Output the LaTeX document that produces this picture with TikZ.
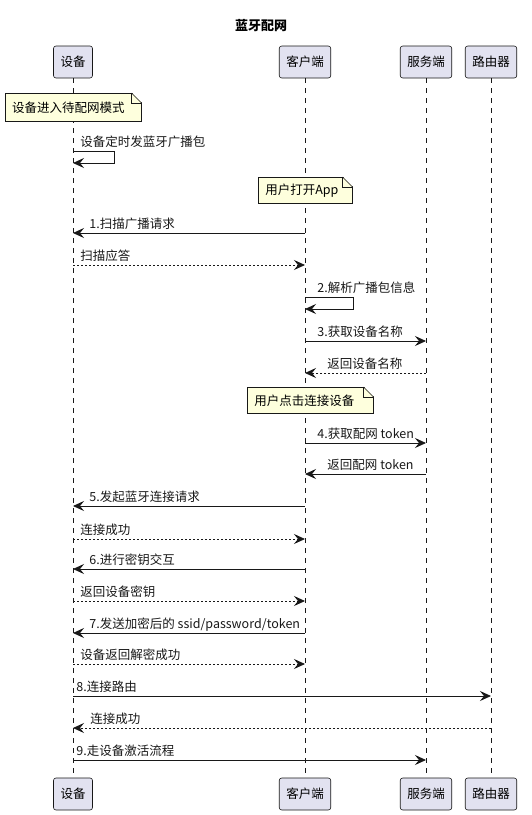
\documentclass[tikz,border=0pt]{standalone}
\usepackage{fontspec}
\setmainfont{Noto Sans CJK SC}
\usetikzlibrary{arrows.meta,positioning}
\definecolor{umlline}{HTML}{181818}
\definecolor{umlpart}{HTML}{E2E2F0}
\definecolor{umlnote}{HTML}{FEFFDD}

\begin{document}
\begin{tikzpicture}[x=1pt, y=-1pt,
      part/.style={draw=umlline, fill=umlpart, rounded corners=2.5pt,
                   line width=0.6pt, minimum height=32pt, inner xsep=7pt,
                   font=\fontsize{12.5}{14}\selectfont},
      life/.style={umlline, line width=0.5pt, dash pattern=on 5pt off 5pt},
      note/.style={draw=umlline, fill=umlnote, line width=0.5pt,
                   minimum height=26pt, inner xsep=7pt, inner ysep=0pt,
                   align=left, anchor=north west,
                   font=\fontsize{12.5}{14}\selectfont},
      msg/.style={-{Stealth[length=11pt, width=10pt, inset=4pt]},
                  umlline, line width=0.9pt},
      ret/.style={msg, dash pattern=on 2pt off 2pt},
      lbl/.style={anchor=base west, inner sep=0pt, yshift=5pt,
                  text=umlline, font=\fontsize{12.5}{14}\selectfont}
  ]
    \useasboundingbox (0,0) rectangle (532,815);
    \node[font=\bfseries\fontsize{13}{15}\selectfont] (title) at (261,26) {蓝牙配网};

    % participants, top and bottom
    \node[part] (devT) at (73,62)  {设备};
    \node[part] (cliT) at (305,62) {客户端};
    \node[part] (srvT) at (426,62) {服务端};
    \node[part] (rtrT) at (491,62) {路由器};
    \node[part] (devB) at (73,794)  {设备};
    \node[part] (cliB) at (305,794) {客户端};
    \node[part] (srvB) at (426,794) {服务端};
    \node[part] (rtrB) at (491,794) {路由器};
    \foreach \p in {dev,cli,srv,rtr}
      \draw[life] (\p T) -- (\p B);

    % message rows on every lifeline
    \foreach \r/\y in {s1/151, s1e/163, m1/233, m1r/265, s2/297, s2e/309,
                       m3/341, m3r/373, m4/443, m4r/474, m5/506, m5r/539,
                       m6/569, m6r/601, m7/633, m7r/664, m8/696, m8r/728, m9/760}
      \foreach \p/\x in {dev/73, cli/305, srv/426, rtr/491}
        \coordinate (\p-\r) at (\x,\y);

    % notes
    \node[note, text width=122pt, minimum height=28pt] (n1) at (5,93) {设备进入待配网模式};
    \node[note, text width=80pt]  (n2) at (258,177) {用户打开App};
    \node[note, text width=112pt] (n3) at (247,387) {用户点击连接设备};
    \foreach \n in {n1,n2,n3} {
      \fill[white] ([xshift=-10pt, yshift=1pt]\n.north east) -- ([xshift=1pt, yshift=1pt]\n.north east)
        -- ([xshift=1pt, yshift=-10pt]\n.north east) -- cycle;
      \draw[umlline, line width=0.5pt] ([xshift=-10pt]\n.north east) -- ([yshift=-10pt]\n.north east);
      \draw[umlline, line width=0.5pt] ([xshift=-10pt]\n.north east) |- ([yshift=-10pt]\n.north east);
    }

    % messages
    \draw[msg] (dev-s1) node[lbl, xshift=7pt] (t0) {设备定时发蓝牙广播包} -- ++(41,0) |- (dev-s1e);
    \draw[msg] (cli-m1) -- (dev-m1) node[lbl, xshift=16pt] (t1) {1.扫描广播请求};
    \draw[ret] (dev-m1r) node[lbl, xshift=7pt] (t1r) {扫描应答} -- (cli-m1r);
    \draw[msg] (cli-s2) node[lbl, xshift=12pt] (t2) {2.解析广播包信息} -- ++(48,0) |- (cli-s2e);
    \draw[msg] (cli-m3) node[lbl, xshift=12pt] (t3) {3.获取设备名称} -- (srv-m3);
    \draw[ret] (srv-m3r) -- (cli-m3r) node[lbl, xshift=22pt] (t3r) {返回设备名称};
    \draw[msg] (cli-m4) node[lbl, xshift=12pt] (t4) {4.获取配网 token} -- (srv-m4);
    \draw[msg] (srv-m4r) -- (cli-m4r) node[lbl, xshift=22pt] (t4r) {返回配网 token};
    \draw[msg] (cli-m5) -- (dev-m5) node[lbl, xshift=16pt] (t5) {5.发起蓝牙连接请求};
    \draw[ret] (dev-m5r) node[lbl, xshift=7pt] (t5r) {连接成功} -- (cli-m5r);
    \draw[msg] (cli-m6) -- (dev-m6) node[lbl, xshift=16pt] (t6) {6.进行密钥交互};
    \draw[ret] (dev-m6r) node[lbl, xshift=7pt] (t6r) {返回设备密钥} -- (cli-m6r);
    \draw[msg] (cli-m7) -- (dev-m7) node[lbl, xshift=16pt] (t7) {7.发送加密后的 ssid/password/token};
    \draw[ret] (dev-m7r) node[lbl, xshift=7pt] (t7r) {设备返回解密成功} -- (cli-m7r);
    \draw[msg] (dev-m8) node[lbl, xshift=3pt] (t8) {8.连接路由} -- (rtr-m8);
    \draw[ret] (rtr-m8r) -- (dev-m8r) node[lbl, xshift=17pt] (t8r) {连接成功};
    \draw[msg] (dev-m9) node[lbl, xshift=3pt] (t9) {9.走设备激活流程} -- (srv-m9);
\end{tikzpicture}
\end{document}
